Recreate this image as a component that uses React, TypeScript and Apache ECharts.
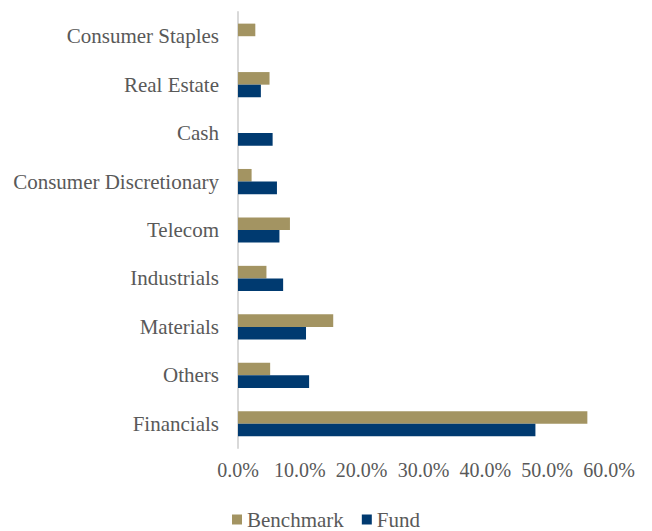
import React, { useEffect, useRef } from "react";
import * as echarts from "echarts";

const categories = [
  "Financials",
  "Others",
  "Materials",
  "Industrials",
  "Telecom",
  "Consumer Discretionary",
  "Cash",
  "Real Estate",
  "Consumer Staples",
];
const benchmark = [56.5, 5.2, 15.4, 4.6, 8.4, 2.2, 0, 5.1, 2.8];
const fund = [48.1, 11.5, 11.0, 7.3, 6.7, 6.3, 5.6, 3.7, 0];
const xTicks = { min: 0, max: 60, interval: 10 };

const FONT = "'Liberation Serif', 'DejaVu Serif', serif";
const TEXT = "#595959";

export default function App() {
  const ref = useRef<HTMLDivElement>(null);
  useEffect(() => {
    if (!ref.current) return;
    const chart = echarts.init(ref.current, null, { renderer: "svg" });
    chart.setOption({
      animation: false,
      textStyle: { fontFamily: FONT },
      grid: { left: 238, right: 43, top: 12, bottom: 83, containLabel: false },
      legend: {
        data: ["Benchmark", "Fund"],
        bottom: 0,
        padding: [0, 5, 1, 5],
        left: "center",
        itemWidth: 10,
        itemHeight: 10,
        itemGap: 18,
        icon: "rect",
        textStyle: { fontFamily: FONT, fontSize: 21, color: TEXT },
      },
      xAxis: {
        type: "value",
        min: xTicks.min,
        max: xTicks.max,
        interval: xTicks.interval,
        axisLine: { show: false },
        axisTick: { show: false },
        splitLine: { show: false },
        axisLabel: {
          margin: 12,
          fontFamily: FONT,
          fontSize: 20,
          color: TEXT,
          formatter: (v: number) => v.toFixed(1) + "%",
        },
      },
      yAxis: {
        type: "category",
        data: categories,
        axisLine: { show: true, lineStyle: { color: "#d9d9d9", width: 2 } },
        axisTick: { show: false },
        axisLabel: { margin: 19, fontFamily: FONT, fontSize: 21, color: TEXT },
      },
      series: [
        {
          name: "Benchmark",
          type: "bar",
          data: benchmark,
          itemStyle: { color: "#A39462" },
          barGap: "0%",
          barCategoryGap: "48%",
        },
        {
          name: "Fund",
          type: "bar",
          data: fund,
          itemStyle: { color: "#003A70" },
          barGap: "0%",
          barCategoryGap: "48%",
        },
      ],
    });
    return () => chart.dispose();
  }, []);
  return (
    <div
      ref={ref}
      style={{ position: "fixed", left: 0, top: 0, width: 652, height: 531, background: "#fff" }}
    />
  );
}
